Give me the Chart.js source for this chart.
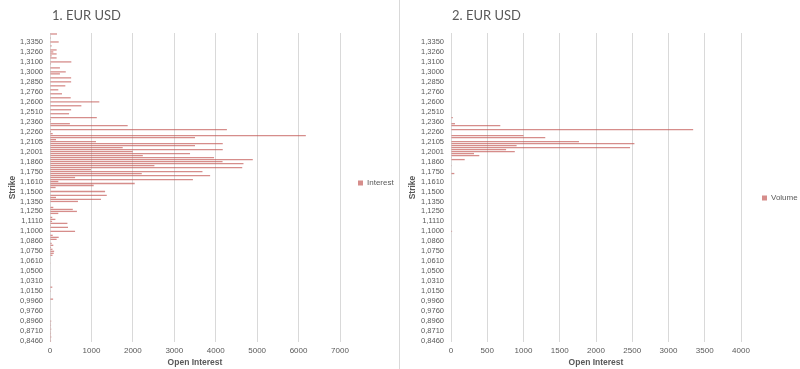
<!DOCTYPE html>
<html>
<head>
<meta charset="utf-8">
<script src="https://cdn.jsdelivr.net/npm/chart.js@4.4.1/dist/chart.umd.min.js"></script>
<style>
  html, body { margin:0; padding:0; background:#fff; }
  body { width:800px; height:369px; position:relative; overflow:hidden; font-family:Lato, "Open Sans", sans-serif; }
  .pane { position:absolute; top:0; height:369px; }
  #p1 { left:0; width:399px; }
  #p2 { left:400px; width:400px; }
  #sep { position:absolute; left:399px; top:0; width:1px; height:369px; background:#d9d9d9; }
  .ttl { position:absolute; top:7px; font-size:13px; color:#595959; white-space:nowrap; }
  canvas { position:absolute; left:0; top:0; }
</style>
</head>
<body>
<div class="pane" id="p1"><canvas id="c1" width="399" height="369"></canvas><div class="ttl" style="left:52px">1. EUR USD</div></div>
<div id="sep"></div>
<div class="pane" id="p2"><canvas id="c2" width="400" height="369"></canvas><div class="ttl" style="left:52px">2. EUR USD</div></div>
<script>
// strike labels that the axis shows (every 5th category, top to bottom)
const tickLabels = ['1,3350','1,3260','1,3100','1,3000','1,2850','1,2760','1,2600','1,2510','1,2360','1,2260',
  '1,2105','1,2001','1,1860','1,1750','1,1610','1,1500','1,1350','1,1250','1,1110','1,1000',
  '1,0860','1,0750','1,0610','1,0500','1,0310','1,0150','0,9960','0,9760','0,8960','0,8710','0,8460'];

// open interest per strike, top (highest strike) to bottom
const interest = [
  170,0,20,0,210,0,40,0,160,80, 160,40,160,0,515,25,0,240,0,380,
  240,0,510,0,510,0,370,0,200,0, 290,0,500,0,1190,0,757,0,510,0,
  460,0,1130,25,20,480,1875,0,4270,25, 65,6175,3500,145,1110,4170,3500,1755,4170,1997,
  3380,2240,3960,4895,4165,4670,2520,4640,990,3680, 2215,3865,605,3450,200,2045,1055,135,15,1330,
  0,1370,145,1230,675,0,15,80,550,650, 200,0,55,130,50,420,20,435,0,605,
  0,65,210,160,0,40,80,25,60,100, 90,60,0,0,0,15,0,0,0,10,
  0,0,0,0,0,0,0,55,0,20, 0,0,0,75,0,0,0,0,0,0,
  0,0,0,0,30,20,25,20,30,20, 25,20,30,20,25
];

// volume per strike, same order
const volume = [
  0,0,0,0,0,0,0,0,0,0, 0,0,0,0,0,0,0,0,0,0,
  0,0,0,0,0,0,0,0,0,0, 0,0,0,0,0,0,0,0,0,0,
  0,0,25,0,0,55,680,0,3340,0, 0,1000,1300,0,1765,2530,905,2470,760,880,
  317,390,10,189,0,0,10,0,0,0, 46,0,0,0,0,0,0,0,0,0,
  0,0,0,0,0,0,0,0,0,0, 0,0,0,0,0,0,0,0,0,15,
  0,0,0,0,0,0,0,0,0,0, 0,0,0,0,0,0,0,0,0,0,
  0,0,0,0,0,0,0,0,0,0, 0,0,0,0,0,0,0,0,0,0,
  0,0,0,0,0,0,0,0,0,0, 0,0,0,0,0
];

const LABEL_STEP = 5, LABEL_OFFSET = 4;
const strikes = interest.map((v, i) =>
  (i >= LABEL_OFFSET && (i - LABEL_OFFSET) % LABEL_STEP === 0) ? tickLabels[(i - LABEL_OFFSET) / LABEL_STEP] : '');

const RED = 'rgba(192,80,77,0.65)', GREY = '#595959', GRID = '#d9d9d9';

// nudge the legend up (Excel doesn't center it exactly)
const legendLift = {
  id: 'legendLift',
  afterLayout(chart, args, opts) {
    if (chart.legend && opts.lift) chart.legend.bottom -= opts.lift * 2;
  }
};

function makeChart(id, name, values, max, step, yW, legPad, lift) {
  return new Chart(document.getElementById(id).getContext('2d'), {
    type: 'bar',
    data: { labels: strikes, datasets: [{ label: name, data: values, backgroundColor: RED, barPercentage: 0.65, categoryPercentage: 1 }] },
    options: {
      indexAxis: 'y', responsive: false, animation: false, devicePixelRatio: 1,
      layout: { padding: { top: 33, right: 0, bottom: 0, left: 0 } },
      plugins: {
        legend: { position: 'right', maxWidth: 59,
          labels: { boxWidth: 5, boxHeight: 5, padding: legPad, color: GREY, font: { size: 8 } } },
        tooltip: { enabled: false },
        legendLift: { lift: lift }
      },
      scales: {
        x: {
          min: 0, max: max,
          ticks: { stepSize: step, color: GREY, font: { size: 8 }, padding: 4, maxRotation: 0, callback: v => String(v) },
          grid: { color: GRID, drawTicks: false },
          border: { display: false },
          title: { display: true, text: 'Open Interest', color: GREY, font: { size: 8.5, weight: 'bold' }, padding: { top: 2, bottom: 1 } },
          afterFit: s => { s.height = 27; }
        },
        y: {
          ticks: { autoSkip: false, color: GREY, font: { size: 7.5 }, padding: 7 },
          grid: { display: false, drawTicks: false },
          border: { display: false },
          title: { display: true, text: 'Strike', color: GREY, font: { size: 8.5, weight: 'bold' }, padding: { top: 8, bottom: 0 } },
          afterFit: s => { s.width = yW; }
        }
      }
    },
    plugins: [legendLift]
  });
}

const chart1 = makeChart('c1', 'Interest', interest, 7000, 1000, 50, 18, 18);
const chart2 = makeChart('c2', 'Volume', volume, 4000, 500, 51, 21, 3);
</script>
</body>
</html>
